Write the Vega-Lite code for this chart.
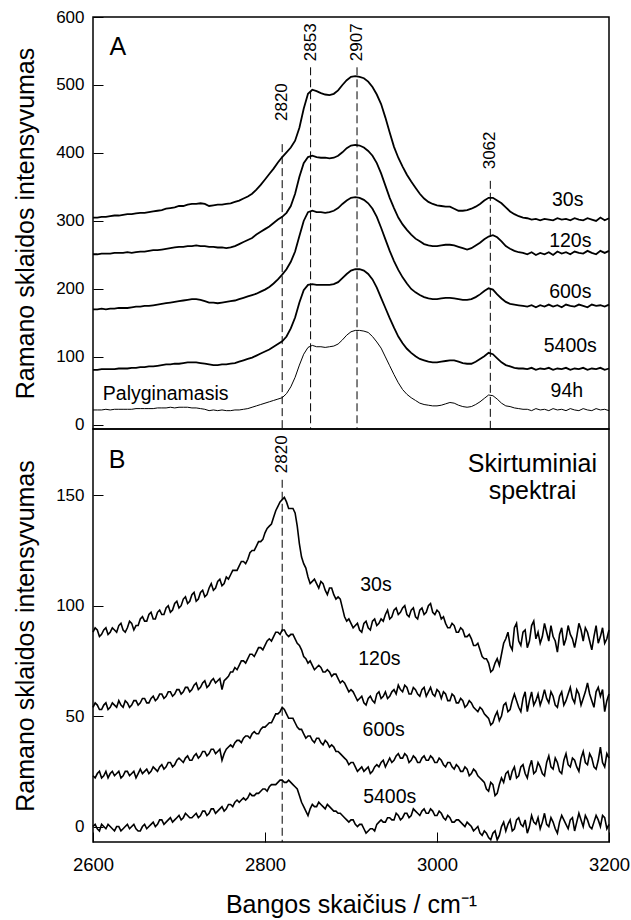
{
  "$schema": "https://vega.github.io/schema/vega-lite/v6.json",
  "padding": {"left": 12, "top": 7, "right": 3, "bottom": 3},
  "spacing": 0,
  "bounds": "flush",
  "config": {
    "font": "Liberation Sans",
    "view": {"stroke": "black", "strokeWidth": 1.5},
    "axis": {
      "domain": false, "grid": false, "tickSize": -10, "tickColor": "black", "tickWidth": 1,
      "labelColor": "black", "labelFlush": false, "labelOverlap": false, "format": "d",
      "titleFontWeight": "normal", "titleColor": "black", "titleFontSize": 25
    }
  },
  "datasets": {
    "specA": [
      {"x":2600,"a30":305,"a120":251,"a600":170,"a5400":81,"a94h":22},
      {"x":2605,"a30":305,"a120":251,"a600":170,"a5400":81,"a94h":22},
      {"x":2610,"a30":306,"a120":252,"a600":171,"a5400":82,"a94h":22},
      {"x":2615,"a30":306,"a120":252,"a600":170,"a5400":82,"a94h":23},
      {"x":2620,"a30":307,"a120":252,"a600":171,"a5400":82,"a94h":22},
      {"x":2625,"a30":308,"a120":253,"a600":171,"a5400":82,"a94h":23},
      {"x":2630,"a30":308,"a120":253,"a600":172,"a5400":83,"a94h":23},
      {"x":2635,"a30":309,"a120":253,"a600":172,"a5400":83,"a94h":23},
      {"x":2640,"a30":310,"a120":254,"a600":172,"a5400":83,"a94h":23},
      {"x":2645,"a30":310,"a120":253,"a600":173,"a5400":84,"a94h":23},
      {"x":2650,"a30":311,"a120":254,"a600":174,"a5400":84,"a94h":24},
      {"x":2655,"a30":312,"a120":255,"a600":174,"a5400":85,"a94h":24},
      {"x":2660,"a30":312,"a120":255,"a600":175,"a5400":85,"a94h":24},
      {"x":2665,"a30":313,"a120":256,"a600":175,"a5400":86,"a94h":24},
      {"x":2670,"a30":314,"a120":257,"a600":176,"a5400":86,"a94h":24},
      {"x":2675,"a30":315,"a120":257,"a600":177,"a5400":87,"a94h":25},
      {"x":2680,"a30":316,"a120":258,"a600":178,"a5400":88,"a94h":25},
      {"x":2685,"a30":318,"a120":259,"a600":179,"a5400":89,"a94h":25},
      {"x":2690,"a30":319,"a120":260,"a600":180,"a5400":89,"a94h":26},
      {"x":2695,"a30":320,"a120":261,"a600":181,"a5400":90,"a94h":25},
      {"x":2700,"a30":322,"a120":262,"a600":182,"a5400":90,"a94h":26},
      {"x":2705,"a30":322,"a120":262,"a600":183,"a5400":91,"a94h":26},
      {"x":2710,"a30":324,"a120":263,"a600":184,"a5400":92,"a94h":26},
      {"x":2715,"a30":325,"a120":263,"a600":185,"a5400":92,"a94h":25},
      {"x":2720,"a30":325,"a120":264,"a600":185,"a5400":92,"a94h":25},
      {"x":2725,"a30":326,"a120":263,"a600":184,"a5400":91,"a94h":24},
      {"x":2730,"a30":325,"a120":263,"a600":182,"a5400":90,"a94h":23},
      {"x":2735,"a30":322,"a120":262,"a600":180,"a5400":89,"a94h":21},
      {"x":2740,"a30":323,"a120":262,"a600":180,"a5400":88,"a94h":22},
      {"x":2745,"a30":324,"a120":261,"a600":179,"a5400":88,"a94h":21},
      {"x":2750,"a30":324,"a120":261,"a600":180,"a5400":89,"a94h":22},
      {"x":2755,"a30":325,"a120":260,"a600":181,"a5400":89,"a94h":21},
      {"x":2760,"a30":326,"a120":261,"a600":182,"a5400":90,"a94h":21},
      {"x":2765,"a30":328,"a120":263,"a600":183,"a5400":91,"a94h":22},
      {"x":2770,"a30":330,"a120":266,"a600":185,"a5400":93,"a94h":22},
      {"x":2775,"a30":333,"a120":269,"a600":187,"a5400":95,"a94h":23},
      {"x":2780,"a30":336,"a120":272,"a600":189,"a5400":97,"a94h":24},
      {"x":2785,"a30":340,"a120":275,"a600":191,"a5400":99,"a94h":26},
      {"x":2790,"a30":346,"a120":280,"a600":193,"a5400":102,"a94h":28},
      {"x":2795,"a30":353,"a120":284,"a600":196,"a5400":105,"a94h":30},
      {"x":2800,"a30":361,"a120":288,"a600":199,"a5400":108,"a94h":32},
      {"x":2805,"a30":369,"a120":292,"a600":203,"a5400":111,"a94h":34},
      {"x":2810,"a30":377,"a120":297,"a600":208,"a5400":115,"a94h":36},
      {"x":2815,"a30":386,"a120":302,"a600":214,"a5400":119,"a94h":38},
      {"x":2820,"a30":394,"a120":306,"a600":221,"a5400":123,"a94h":40},
      {"x":2825,"a30":401,"a120":312,"a600":229,"a5400":130,"a94h":46},
      {"x":2830,"a30":408,"a120":322,"a600":240,"a5400":142,"a94h":56},
      {"x":2835,"a30":418,"a120":340,"a600":255,"a5400":158,"a94h":70},
      {"x":2840,"a30":437,"a120":365,"a600":278,"a5400":180,"a94h":88},
      {"x":2845,"a30":465,"a120":385,"a600":300,"a5400":198,"a94h":104},
      {"x":2850,"a30":487,"a120":394,"a600":313,"a5400":206,"a94h":114},
      {"x":2855,"a30":493,"a120":396,"a600":315,"a5400":207,"a94h":117},
      {"x":2860,"a30":491,"a120":394,"a600":313,"a5400":206,"a94h":115},
      {"x":2865,"a30":488,"a120":393,"a600":313,"a5400":206,"a94h":115},
      {"x":2870,"a30":486,"a120":393,"a600":312,"a5400":206,"a94h":114},
      {"x":2875,"a30":485,"a120":392,"a600":313,"a5400":206,"a94h":115},
      {"x":2880,"a30":487,"a120":393,"a600":315,"a5400":207,"a94h":116},
      {"x":2885,"a30":492,"a120":396,"a600":319,"a5400":210,"a94h":119},
      {"x":2890,"a30":500,"a120":401,"a600":325,"a5400":216,"a94h":125},
      {"x":2895,"a30":507,"a120":407,"a600":330,"a5400":222,"a94h":132},
      {"x":2900,"a30":512,"a120":411,"a600":334,"a5400":227,"a94h":137},
      {"x":2905,"a30":513,"a120":412,"a600":335,"a5400":229,"a94h":139},
      {"x":2910,"a30":512,"a120":411,"a600":334,"a5400":229,"a94h":139},
      {"x":2915,"a30":510,"a120":408,"a600":331,"a5400":227,"a94h":138},
      {"x":2920,"a30":505,"a120":403,"a600":326,"a5400":222,"a94h":136},
      {"x":2925,"a30":497,"a120":396,"a600":318,"a5400":214,"a94h":130},
      {"x":2930,"a30":486,"a120":385,"a600":306,"a5400":202,"a94h":122},
      {"x":2935,"a30":472,"a120":370,"a600":290,"a5400":187,"a94h":113},
      {"x":2940,"a30":452,"a120":352,"a600":273,"a5400":172,"a94h":100},
      {"x":2945,"a30":430,"a120":334,"a600":256,"a5400":157,"a94h":87},
      {"x":2950,"a30":409,"a120":319,"a600":241,"a5400":143,"a94h":74},
      {"x":2955,"a30":393,"a120":305,"a600":228,"a5400":130,"a94h":62},
      {"x":2960,"a30":380,"a120":295,"a600":217,"a5400":120,"a94h":52},
      {"x":2965,"a30":368,"a120":287,"a600":208,"a5400":112,"a94h":45},
      {"x":2970,"a30":358,"a120":280,"a600":200,"a5400":106,"a94h":40},
      {"x":2975,"a30":349,"a120":274,"a600":195,"a5400":101,"a94h":36},
      {"x":2980,"a30":340,"a120":270,"a600":191,"a5400":97,"a94h":32},
      {"x":2985,"a30":333,"a120":266,"a600":188,"a5400":95,"a94h":30},
      {"x":2990,"a30":328,"a120":264,"a600":186,"a5400":93,"a94h":29},
      {"x":2995,"a30":325,"a120":263,"a600":185,"a5400":92,"a94h":28},
      {"x":3000,"a30":323,"a120":263,"a600":185,"a5400":92,"a94h":28},
      {"x":3005,"a30":322,"a120":264,"a600":186,"a5400":93,"a94h":29},
      {"x":3010,"a30":321,"a120":265,"a600":187,"a5400":94,"a94h":31},
      {"x":3015,"a30":321,"a120":265,"a600":187,"a5400":95,"a94h":33},
      {"x":3020,"a30":318,"a120":264,"a600":186,"a5400":95,"a94h":32},
      {"x":3025,"a30":315,"a120":262,"a600":185,"a5400":93,"a94h":29},
      {"x":3030,"a30":315,"a120":260,"a600":184,"a5400":91,"a94h":27},
      {"x":3035,"a30":316,"a120":258,"a600":184,"a5400":90,"a94h":26},
      {"x":3040,"a30":318,"a120":260,"a600":185,"a5400":90,"a94h":27},
      {"x":3045,"a30":321,"a120":264,"a600":188,"a5400":93,"a94h":30},
      {"x":3050,"a30":325,"a120":268,"a600":192,"a5400":97,"a94h":34},
      {"x":3055,"a30":330,"a120":273,"a600":197,"a5400":101,"a94h":39},
      {"x":3060,"a30":334,"a120":277,"a600":201,"a5400":106,"a94h":44},
      {"x":3065,"a30":334,"a120":279,"a600":199,"a5400":104,"a94h":43},
      {"x":3070,"a30":330,"a120":276,"a600":192,"a5400":98,"a94h":38},
      {"x":3075,"a30":326,"a120":270,"a600":186,"a5400":92,"a94h":32},
      {"x":3080,"a30":320,"a120":263,"a600":181,"a5400":88,"a94h":28},
      {"x":3085,"a30":314,"a120":259,"a600":178,"a5400":86,"a94h":27},
      {"x":3090,"a30":310,"a120":256,"a600":177,"a5400":84,"a94h":25},
      {"x":3095,"a30":307,"a120":254,"a600":176,"a5400":83,"a94h":24},
      {"x":3100,"a30":305,"a120":253,"a600":175,"a5400":83,"a94h":23},
      {"x":3105,"a30":304,"a120":251,"a600":174,"a5400":82,"a94h":23},
      {"x":3110,"a30":302,"a120":254,"a600":176,"a5400":84,"a94h":21},
      {"x":3115,"a30":303,"a120":250,"a600":173,"a5400":81,"a94h":24},
      {"x":3120,"a30":301,"a120":253,"a600":176,"a5400":83,"a94h":22},
      {"x":3125,"a30":303,"a120":251,"a600":174,"a5400":82,"a94h":23},
      {"x":3130,"a30":302,"a120":254,"a600":177,"a5400":84,"a94h":21},
      {"x":3135,"a30":301,"a120":250,"a600":174,"a5400":81,"a94h":24},
      {"x":3140,"a30":304,"a120":255,"a600":176,"a5400":83,"a94h":22},
      {"x":3145,"a30":302,"a120":252,"a600":173,"a5400":82,"a94h":23},
      {"x":3150,"a30":303,"a120":254,"a600":177,"a5400":84,"a94h":21},
      {"x":3155,"a30":301,"a120":251,"a600":175,"a5400":81,"a94h":24},
      {"x":3160,"a30":304,"a120":255,"a600":174,"a5400":83,"a94h":22},
      {"x":3165,"a30":302,"a120":253,"a600":177,"a5400":82,"a94h":21},
      {"x":3170,"a30":301,"a120":252,"a600":175,"a5400":84,"a94h":24},
      {"x":3175,"a30":304,"a120":256,"a600":173,"a5400":81,"a94h":22},
      {"x":3180,"a30":302,"a120":253,"a600":177,"a5400":83,"a94h":21},
      {"x":3185,"a30":300,"a120":251,"a600":175,"a5400":82,"a94h":24},
      {"x":3190,"a30":305,"a120":256,"a600":176,"a5400":84,"a94h":22},
      {"x":3195,"a30":301,"a120":253,"a600":174,"a5400":81,"a94h":23},
      {"x":3200,"a30":304,"a120":256,"a600":177,"a5400":83,"a94h":21}
    ],
    "specB": [
      {"x":2600,"b30":88,"b120":54,"b600":23,"b5400":0},
      {"x":2605,"b30":89,"b120":55,"b600":24,"b5400":-1},
      {"x":2610,"b30":87,"b120":53,"b600":22,"b5400":1},
      {"x":2615,"b30":90,"b120":56,"b600":25,"b5400":-1},
      {"x":2620,"b30":88,"b120":54,"b600":24,"b5400":0},
      {"x":2625,"b30":89,"b120":55,"b600":23,"b5400":-2},
      {"x":2630,"b30":91,"b120":57,"b600":25,"b5400":0},
      {"x":2635,"b30":89,"b120":54,"b600":23,"b5400":-1},
      {"x":2640,"b30":90,"b120":56,"b600":25,"b5400":1},
      {"x":2645,"b30":92,"b120":55,"b600":24,"b5400":0},
      {"x":2650,"b30":91,"b120":57,"b600":22,"b5400":-1},
      {"x":2655,"b30":94,"b120":56,"b600":26,"b5400":-2},
      {"x":2660,"b30":93,"b120":58,"b600":25,"b5400":1},
      {"x":2665,"b30":96,"b120":56,"b600":24,"b5400":0},
      {"x":2670,"b30":94,"b120":59,"b600":27,"b5400":2},
      {"x":2675,"b30":97,"b120":58,"b600":25,"b5400":1},
      {"x":2680,"b30":96,"b120":60,"b600":28,"b5400":3},
      {"x":2685,"b30":99,"b120":59,"b600":27,"b5400":2},
      {"x":2690,"b30":97,"b120":61,"b600":29,"b5400":4},
      {"x":2695,"b30":101,"b120":60,"b600":28,"b5400":3},
      {"x":2700,"b30":99,"b120":62,"b600":31,"b5400":5},
      {"x":2705,"b30":103,"b120":61,"b600":29,"b5400":4},
      {"x":2710,"b30":101,"b120":63,"b600":32,"b5400":5},
      {"x":2715,"b30":105,"b120":62,"b600":30,"b5400":4},
      {"x":2720,"b30":102,"b120":65,"b600":33,"b5400":6},
      {"x":2725,"b30":106,"b120":63,"b600":32,"b5400":5},
      {"x":2730,"b30":104,"b120":66,"b600":34,"b5400":7},
      {"x":2735,"b30":108,"b120":64,"b600":33,"b5400":6},
      {"x":2740,"b30":107,"b120":67,"b600":35,"b5400":8},
      {"x":2745,"b30":111,"b120":66,"b600":34,"b5400":7},
      {"x":2750,"b30":109,"b120":62,"b600":30,"b5400":9},
      {"x":2755,"b30":113,"b120":67,"b600":35,"b5400":8},
      {"x":2760,"b30":114,"b120":70,"b600":37,"b5400":10},
      {"x":2765,"b30":116,"b120":72,"b600":38,"b5400":11},
      {"x":2770,"b30":118,"b120":73,"b600":39,"b5400":11},
      {"x":2775,"b30":120,"b120":75,"b600":40,"b5400":13},
      {"x":2780,"b30":121,"b120":76,"b600":41,"b5400":13},
      {"x":2785,"b30":125,"b120":78,"b600":42,"b5400":14},
      {"x":2790,"b30":127,"b120":79,"b600":42,"b5400":15},
      {"x":2795,"b30":129,"b120":81,"b600":44,"b5400":16},
      {"x":2800,"b30":133,"b120":82,"b600":45,"b5400":17},
      {"x":2805,"b30":136,"b120":85,"b600":47,"b5400":18},
      {"x":2810,"b30":140,"b120":86,"b600":49,"b5400":19},
      {"x":2815,"b30":145,"b120":88,"b600":51,"b5400":20},
      {"x":2820,"b30":148,"b120":89,"b600":54,"b5400":21},
      {"x":2825,"b30":147,"b120":87,"b600":51,"b5400":20},
      {"x":2830,"b30":144,"b120":87,"b600":49,"b5400":20},
      {"x":2835,"b30":142,"b120":85,"b600":47,"b5400":18},
      {"x":2840,"b30":128,"b120":82,"b600":44,"b5400":14},
      {"x":2845,"b30":119,"b120":77,"b600":42,"b5400":9},
      {"x":2850,"b30":113,"b120":74,"b600":41,"b5400":5},
      {"x":2855,"b30":111,"b120":73,"b600":39,"b5400":10},
      {"x":2860,"b30":110,"b120":72,"b600":40,"b5400":9},
      {"x":2865,"b30":111,"b120":72,"b600":38,"b5400":10},
      {"x":2870,"b30":107,"b120":70,"b600":39,"b5400":8},
      {"x":2875,"b30":108,"b120":70,"b600":36,"b5400":9},
      {"x":2880,"b30":105,"b120":69,"b600":36,"b5400":7},
      {"x":2885,"b30":104,"b120":67,"b600":34,"b5400":6},
      {"x":2890,"b30":99,"b120":66,"b600":32,"b5400":5},
      {"x":2895,"b30":93,"b120":63,"b600":30,"b5400":3},
      {"x":2900,"b30":92,"b120":62,"b600":29,"b5400":3},
      {"x":2905,"b30":91,"b120":59,"b600":27,"b5400":1},
      {"x":2910,"b30":89,"b120":58,"b600":26,"b5400":1},
      {"x":2915,"b30":92,"b120":56,"b600":25,"b5400":-1},
      {"x":2920,"b30":90,"b120":58,"b600":27,"b5400":-2},
      {"x":2925,"b30":93,"b120":57,"b600":25,"b5400":-1},
      {"x":2930,"b30":91,"b120":60,"b600":28,"b5400":1},
      {"x":2935,"b30":94,"b120":58,"b600":29,"b5400":3},
      {"x":2940,"b30":96,"b120":61,"b600":27,"b5400":2},
      {"x":2945,"b30":94,"b120":59,"b600":31,"b5400":4},
      {"x":2950,"b30":98,"b120":62,"b600":30,"b5400":3},
      {"x":2955,"b30":96,"b120":64,"b600":33,"b5400":5},
      {"x":2960,"b30":99,"b120":61,"b600":31,"b5400":4},
      {"x":2965,"b30":96,"b120":63,"b600":32,"b5400":6},
      {"x":2970,"b30":98,"b120":60,"b600":30,"b5400":5},
      {"x":2975,"b30":95,"b120":62,"b600":31,"b5400":7},
      {"x":2980,"b30":98,"b120":59,"b600":29,"b5400":5},
      {"x":2985,"b30":96,"b120":63,"b600":32,"b5400":8},
      {"x":2990,"b30":100,"b120":61,"b600":30,"b5400":6},
      {"x":2995,"b30":97,"b120":60,"b600":31,"b5400":7},
      {"x":3000,"b30":98,"b120":62,"b600":29,"b5400":5},
      {"x":3005,"b30":94,"b120":58,"b600":30,"b5400":6},
      {"x":3010,"b30":92,"b120":60,"b600":27,"b5400":3},
      {"x":3015,"b30":90,"b120":57,"b600":29,"b5400":4},
      {"x":3020,"b30":91,"b120":59,"b600":26,"b5400":2},
      {"x":3025,"b30":88,"b120":56,"b600":27,"b5400":3},
      {"x":3030,"b30":89,"b120":57,"b600":25,"b5400":1},
      {"x":3035,"b30":86,"b120":55,"b600":26,"b5400":2},
      {"x":3040,"b30":85,"b120":56,"b600":24,"b5400":0},
      {"x":3045,"b30":82,"b120":53,"b600":25,"b5400":-1},
      {"x":3050,"b30":80,"b120":54,"b600":22,"b5400":-3},
      {"x":3055,"b30":76,"b120":51,"b600":20,"b5400":-2},
      {"x":3060,"b30":74,"b120":49,"b600":16,"b5400":-5},
      {"x":3065,"b30":71,"b120":47,"b600":19,"b5400":-3},
      {"x":3070,"b30":76,"b120":52,"b600":15,"b5400":-6},
      {"x":3075,"b30":78,"b120":50,"b600":22,"b5400":0},
      {"x":3080,"b30":85,"b120":56,"b600":24,"b5400":-2},
      {"x":3085,"b30":82,"b120":53,"b600":21,"b5400":3},
      {"x":3090,"b30":90,"b120":60,"b600":27,"b5400":-1},
      {"x":3095,"b30":84,"b120":54,"b600":23,"b5400":4},
      {"x":3100,"b30":88,"b120":58,"b600":28,"b5400":0},
      {"x":3105,"b30":81,"b120":52,"b600":22,"b5400":-3},
      {"x":3110,"b30":91,"b120":61,"b600":30,"b5400":5},
      {"x":3115,"b30":85,"b120":57,"b600":25,"b5400":1},
      {"x":3120,"b30":83,"b120":55,"b600":27,"b5400":-1},
      {"x":3125,"b30":92,"b120":62,"b600":23,"b5400":6},
      {"x":3130,"b30":84,"b120":56,"b600":32,"b5400":0},
      {"x":3135,"b30":86,"b120":59,"b600":26,"b5400":2},
      {"x":3140,"b30":79,"b120":54,"b600":29,"b5400":-3},
      {"x":3145,"b30":90,"b120":61,"b600":24,"b5400":5},
      {"x":3150,"b30":85,"b120":57,"b600":33,"b5400":1},
      {"x":3155,"b30":87,"b120":63,"b600":27,"b5400":3},
      {"x":3160,"b30":81,"b120":56,"b600":30,"b5400":-2},
      {"x":3165,"b30":92,"b120":60,"b600":25,"b5400":6},
      {"x":3170,"b30":84,"b120":58,"b600":34,"b5400":0},
      {"x":3175,"b30":88,"b120":65,"b600":28,"b5400":3},
      {"x":3180,"b30":80,"b120":57,"b600":31,"b5400":-1},
      {"x":3185,"b30":91,"b120":61,"b600":26,"b5400":5},
      {"x":3190,"b30":86,"b120":59,"b600":36,"b5400":0},
      {"x":3195,"b30":83,"b120":52,"b600":27,"b5400":4},
      {"x":3200,"b30":89,"b120":60,"b600":31,"b5400":1},
      {"x":2602.5,"b30":90,"b120":56,"b600":22,"b5400":1},
      {"x":2607.5,"b30":86,"b120":53,"b600":25,"b5400":-2},
      {"x":2612.5,"b30":89,"b120":55,"b600":23,"b5400":0},
      {"x":2617.5,"b30":87,"b120":53,"b600":22,"b5400":1},
      {"x":2622.5,"b30":90,"b120":56,"b600":25,"b5400":-1},
      {"x":2627.5,"b30":88,"b120":54,"b600":24,"b5400":0},
      {"x":2632.5,"b30":92,"b120":55,"b600":22,"b5400":-2},
      {"x":2637.5,"b30":88,"b120":57,"b600":25,"b5400":0},
      {"x":2642.5,"b30":93,"b120":54,"b600":23,"b5400":-1},
      {"x":2647.5,"b30":89,"b120":57,"b600":25,"b5400":1},
      {"x":2652.5,"b30":91,"b120":55,"b600":24,"b5400":-2},
      {"x":2657.5,"b30":95,"b120":58,"b600":24,"b5400":0},
      {"x":2662.5,"b30":93,"b120":56,"b600":26,"b5400":-1},
      {"x":2667.5,"b30":97,"b120":58,"b600":25,"b5400":1},
      {"x":2672.5,"b30":94,"b120":57,"b600":26,"b5400":0},
      {"x":2677.5,"b30":98,"b120":60,"b600":27,"b5400":3},
      {"x":2682.5,"b30":96,"b120":58,"b600":26,"b5400":1},
      {"x":2687.5,"b30":100,"b120":61,"b600":29,"b5400":3},
      {"x":2692.5,"b30":98,"b120":59,"b600":27,"b5400":2},
      {"x":2697.5,"b30":102,"b120":62,"b600":30,"b5400":4},
      {"x":2702.5,"b30":100,"b120":60,"b600":30,"b5400":3},
      {"x":2707.5,"b30":104,"b120":63,"b600":31,"b5400":6},
      {"x":2712.5,"b30":102,"b120":61,"b600":30,"b5400":4},
      {"x":2717.5,"b30":106,"b120":64,"b600":32,"b5400":5},
      {"x":2722.5,"b30":103,"b120":62,"b600":31,"b5400":4},
      {"x":2727.5,"b30":107,"b120":65,"b600":34,"b5400":7},
      {"x":2732.5,"b30":105,"b120":63,"b600":32,"b5400":5},
      {"x":2737.5,"b30":110,"b120":66,"b600":35,"b5400":8},
      {"x":2742.5,"b30":108,"b120":65,"b600":33,"b5400":6},
      {"x":2747.5,"b30":112,"b120":67,"b600":35,"b5400":8},
      {"x":2752.5,"b30":110,"b120":66,"b600":33,"b5400":7},
      {"x":2757.5,"b30":112,"b120":68,"b600":36,"b5400":10},
      {"x":2762.5,"b30":116,"b120":70,"b600":36,"b5400":9},
      {"x":2767.5,"b30":116,"b120":71,"b600":39,"b5400":12},
      {"x":2772.5,"b30":120,"b120":75,"b600":38,"b5400":12},
      {"x":2777.5,"b30":119,"b120":74,"b600":41,"b5400":12},
      {"x":2782.5,"b30":124,"b120":78,"b600":40,"b5400":15},
      {"x":2787.5,"b30":125,"b120":77,"b600":43,"b5400":14},
      {"x":2792.5,"b30":129,"b120":81,"b600":42,"b5400":15},
      {"x":2797.5,"b30":130,"b120":80,"b600":45,"b5400":17},
      {"x":2802.5,"b30":135,"b120":84,"b600":46,"b5400":16},
      {"x":2807.5,"b30":137,"b120":84,"b600":47,"b5400":19},
      {"x":2812.5,"b30":143,"b120":88,"b600":51,"b5400":19},
      {"x":2817.5,"b30":147,"b120":87,"b600":52,"b5400":21},
      {"x":2822.5,"b30":149,"b120":89,"b600":53,"b5400":20},
      {"x":2827.5,"b30":144,"b120":86,"b600":49,"b5400":21},
      {"x":2832.5,"b30":144,"b120":87,"b600":49,"b5400":19},
      {"x":2837.5,"b30":136,"b120":83,"b600":45,"b5400":17},
      {"x":2842.5,"b30":122,"b120":80,"b600":44,"b5400":11},
      {"x":2847.5,"b30":117,"b120":76,"b600":40,"b5400":7},
      {"x":2852.5,"b30":110,"b120":75,"b600":41,"b5400":8},
      {"x":2857.5,"b30":112,"b120":71,"b600":38,"b5400":9},
      {"x":2862.5,"b30":108,"b120":73,"b600":40,"b5400":11},
      {"x":2867.5,"b30":110,"b120":70,"b600":37,"b5400":9},
      {"x":2872.5,"b30":105,"b120":71,"b600":38,"b5400":10},
      {"x":2877.5,"b30":108,"b120":68,"b600":37,"b5400":8},
      {"x":2882.5,"b30":103,"b120":69,"b600":34,"b5400":7},
      {"x":2887.5,"b30":103,"b120":65,"b600":33,"b5400":6},
      {"x":2892.5,"b30":95,"b120":65,"b600":31,"b5400":4},
      {"x":2897.5,"b30":94,"b120":61,"b600":28,"b5400":2},
      {"x":2902.5,"b30":90,"b120":61,"b600":29,"b5400":3},
      {"x":2907.5,"b30":92,"b120":57,"b600":25,"b5400":0},
      {"x":2912.5,"b30":88,"b120":59,"b600":27,"b5400":1},
      {"x":2917.5,"b30":93,"b120":55,"b600":26,"b5400":-3},
      {"x":2922.5,"b30":89,"b120":59,"b600":24,"b5400":-1},
      {"x":2927.5,"b30":94,"b120":56,"b600":27,"b5400":-2},
      {"x":2932.5,"b30":92,"b120":61,"b600":27,"b5400":2},
      {"x":2937.5,"b30":93,"b120":59,"b600":30,"b5400":2},
      {"x":2942.5,"b30":98,"b120":58,"b600":29,"b5400":4},
      {"x":2947.5,"b30":95,"b120":61,"b600":29,"b5400":3},
      {"x":2952.5,"b30":99,"b120":60,"b600":32,"b5400":6},
      {"x":2957.5,"b30":97,"b120":62,"b600":31,"b5400":3},
      {"x":2962.5,"b30":100,"b120":64,"b600":33,"b5400":6},
      {"x":2967.5,"b30":95,"b120":60,"b600":29,"b5400":4},
      {"x":2972.5,"b30":99,"b120":63,"b600":32,"b5400":8},
      {"x":2977.5,"b30":94,"b120":60,"b600":29,"b5400":6},
      {"x":2982.5,"b30":99,"b120":62,"b600":31,"b5400":7},
      {"x":2987.5,"b30":97,"b120":59,"b600":30,"b5400":6},
      {"x":2992.5,"b30":101,"b120":63,"b600":32,"b5400":8},
      {"x":2997.5,"b30":96,"b120":59,"b600":29,"b5400":5},
      {"x":3002.5,"b30":97,"b120":61,"b600":31,"b5400":7},
      {"x":3007.5,"b30":95,"b120":61,"b600":28,"b5400":4},
      {"x":3012.5,"b30":90,"b120":57,"b600":29,"b5400":5},
      {"x":3017.5,"b30":92,"b120":60,"b600":27,"b5400":2},
      {"x":3022.5,"b30":88,"b120":56,"b600":28,"b5400":3},
      {"x":3027.5,"b30":90,"b120":58,"b600":25,"b5400":2},
      {"x":3032.5,"b30":86,"b120":54,"b600":27,"b5400":0},
      {"x":3037.5,"b30":87,"b120":57,"b600":23,"b5400":1},
      {"x":3042.5,"b30":82,"b120":54,"b600":26,"b5400":-2},
      {"x":3047.5,"b30":83,"b120":52,"b600":23,"b5400":0},
      {"x":3052.5,"b30":77,"b120":53,"b600":21,"b5400":-4},
      {"x":3057.5,"b30":76,"b120":50,"b600":17,"b5400":-3},
      {"x":3062.5,"b30":70,"b120":46,"b600":20,"b5400":-6},
      {"x":3067.5,"b30":74,"b120":50,"b600":14,"b5400":-2},
      {"x":3072.5,"b30":73,"b120":48,"b600":19,"b5400":-4},
      {"x":3077.5,"b30":83,"b120":55,"b600":20,"b5400":2},
      {"x":3082.5,"b30":88,"b120":52,"b600":25,"b5400":1},
      {"x":3087.5,"b30":80,"b120":57,"b600":25,"b5400":-2},
      {"x":3092.5,"b30":92,"b120":57,"b600":22,"b5400":3},
      {"x":3097.5,"b30":82,"b120":52,"b600":27,"b5400":1},
      {"x":3102.5,"b30":89,"b120":61,"b600":24,"b5400":3},
      {"x":3107.5,"b30":84,"b120":57,"b600":27,"b5400":0},
      {"x":3112.5,"b30":93,"b120":55,"b600":24,"b5400":2},
      {"x":3117.5,"b30":88,"b120":60,"b600":29,"b5400":4},
      {"x":3122.5,"b30":86,"b120":58,"b600":24,"b5400":2},
      {"x":3127.5,"b30":88,"b120":58,"b600":29,"b5400":1},
      {"x":3132.5,"b30":91,"b120":61,"b600":27,"b5400":4},
      {"x":3137.5,"b30":84,"b120":55,"b600":31,"b5400":-1},
      {"x":3142.5,"b30":87,"b120":59,"b600":25,"b5400":2},
      {"x":3147.5,"b30":82,"b120":55,"b600":30,"b5400":3},
      {"x":3152.5,"b30":91,"b120":60,"b600":28,"b5400":-1},
      {"x":3157.5,"b30":85,"b120":58,"b600":31,"b5400":4},
      {"x":3162.5,"b30":86,"b120":62,"b600":27,"b5400":2},
      {"x":3167.5,"b30":89,"b120":55,"b600":31,"b5400":3},
      {"x":3172.5,"b30":90,"b120":61,"b600":29,"b5400":5},
      {"x":3177.5,"b30":84,"b120":60,"b600":33,"b5400":0},
      {"x":3182.5,"b30":86,"b120":54,"b600":27,"b5400":2},
      {"x":3187.5,"b30":83,"b120":63,"b600":30,"b5400":3},
      {"x":3192.5,"b30":90,"b120":62,"b600":29,"b5400":5},
      {"x":3197.5,"b30":85,"b120":57,"b600":33,"b5400":-1}
    ],
    "peaks": [
      {"p":"A","x":2820,"top":413,"bot":-6,"ly":447,"t":"2820"},
      {"p":"A","x":2853,"top":526,"bot":-6,"ly":535,"t":"2853"},
      {"p":"A","x":2907,"top":526,"bot":-6,"ly":535,"t":"2907"},
      {"p":"A","x":3062,"top":359,"bot":-6,"ly":376,"t":"3062"},
      {"p":"B","x":2820,"top":157,"bot":-7,"ly":160,"t":"2820"}
    ],
    "notes": [
      {"p":"A","k":"s","x":3152,"y":331,"t":"30s"},
      {"p":"A","k":"s","x":3155,"y":271,"t":"120s"},
      {"p":"A","k":"s","x":3155,"y":195,"t":"600s"},
      {"p":"A","k":"s","x":3155,"y":116,"t":"5400s"},
      {"p":"A","k":"s","x":3151,"y":50,"t":"94h"},
      {"p":"A","k":"s","x":2684.5,"y":45,"t":"Palyginamasis"},
      {"p":"A","k":"b","x":2629,"y":556,"t":"A"},
      {"p":"B","k":"b","x":2628,"y":166,"t":"B"},
      {"p":"B","k":"b","x":3111,"y":164,"t":"Skirtuminiai"},
      {"p":"B","k":"b","x":3111,"y":152,"t":"spektrai"},
      {"p":"B","k":"s","x":2929,"y":109.5,"t":"30s"},
      {"p":"B","k":"s","x":2933,"y":76,"t":"120s"},
      {"p":"B","k":"s","x":2938,"y":43.8,"t":"600s"},
      {"p":"B","k":"s","x":2945,"y":13.3,"t":"5400s"}
    ]
  },
  "vconcat": [
    {
      "width": 516,
      "height": 412,
      "layer": [
        {
          "data": {"name": "specA"},
          "transform": [{"fold": ["a30", "a120", "a600", "a5400"], "as": ["series", "val"]}],
          "mark": {"type": "line", "color": "black", "strokeWidth": 1.8},
          "encoding": {
            "x": {"field": "x", "type": "quantitative", "scale": {"domain": [2600, 3200], "nice": false}, "axis": null},
            "y": {"field": "val", "type": "quantitative", "scale": {"domain": [-6, 600], "nice": false},
              "axis": {"values": [0, 100, 200, 300, 400, 500, 600], "title": "Ramano sklaidos intensyvumas",
                "labelFontSize": 17, "labelPadding": 19, "titlePadding": 17}},
            "detail": {"field": "series"}
          }
        },
        {
          "data": {"name": "specA"},
          "mark": {"type": "line", "color": "black", "strokeWidth": 1},
          "encoding": {
            "x": {"field": "x", "type": "quantitative", "axis": null},
            "y": {"field": "a94h", "type": "quantitative"}
          }
        },
        {
          "data": {"name": "peaks"},
          "transform": [{"filter": "datum.p === 'A'"}],
          "mark": {"type": "rule", "color": "black", "strokeWidth": 1, "strokeDash": [8, 4]},
          "encoding": {
            "x": {"field": "x", "type": "quantitative", "axis": null},
            "y": {"field": "top", "type": "quantitative"},
            "y2": {"field": "bot"}
          }
        },
        {
          "data": {"name": "peaks"},
          "transform": [{"filter": "datum.p === 'A'"}],
          "mark": {"type": "text", "color": "black", "fontSize": 17, "angle": 270, "align": "left", "baseline": "middle"},
          "encoding": {
            "x": {"field": "x", "type": "quantitative", "axis": null},
            "y": {"field": "ly", "type": "quantitative"},
            "text": {"field": "t"}
          }
        },
        {
          "data": {"name": "notes"},
          "transform": [{"filter": "datum.p === 'A' && datum.k === 's'"}],
          "mark": {"type": "text", "color": "black", "fontSize": 19.5, "align": "center", "baseline": "middle"},
          "encoding": {
            "x": {"field": "x", "type": "quantitative", "axis": null},
            "y": {"field": "y", "type": "quantitative"},
            "text": {"field": "t"}
          }
        },
        {
          "data": {"name": "notes"},
          "transform": [{"filter": "datum.p === 'A' && datum.k === 'b'"}],
          "mark": {"type": "text", "color": "black", "fontSize": 25, "align": "center", "baseline": "middle"},
          "encoding": {
            "x": {"field": "x", "type": "quantitative", "axis": null},
            "y": {"field": "y", "type": "quantitative"},
            "text": {"field": "t"}
          }
        }
      ]
    },
    {
      "width": 516,
      "height": 413,
      "layer": [
        {
          "data": {"name": "specB"},
          "transform": [{"fold": ["b30", "b120", "b600", "b5400"], "as": ["series", "val"]}],
          "mark": {"type": "line", "color": "black", "strokeWidth": 1.6},
          "encoding": {
            "x": {"field": "x", "type": "quantitative", "scale": {"domain": [2600, 3200], "nice": false},
              "axis": {"values": [2600, 2800, 3000, 3200], "title": "Bangos skaičius / cm⁻¹",
                "labelFontSize": 18.5, "labelPadding": 23, "titlePadding": 19}},
            "y": {"field": "val", "type": "quantitative", "scale": {"domain": [-7, 180], "nice": false},
              "axis": {"values": [0, 50, 100, 150], "title": "Ramano sklaidos intensyvumas",
                "labelFontSize": 17, "labelPadding": 19, "titlePadding": 17}},
            "detail": {"field": "series"}
          }
        },
        {
          "data": {"name": "peaks"},
          "transform": [{"filter": "datum.p === 'B'"}],
          "mark": {"type": "rule", "color": "black", "strokeWidth": 1, "strokeDash": [8, 4]},
          "encoding": {
            "x": {"field": "x", "type": "quantitative"},
            "y": {"field": "top", "type": "quantitative"},
            "y2": {"field": "bot"}
          }
        },
        {
          "data": {"name": "peaks"},
          "transform": [{"filter": "datum.p === 'B'"}],
          "mark": {"type": "text", "color": "black", "fontSize": 17, "angle": 270, "align": "left", "baseline": "middle"},
          "encoding": {
            "x": {"field": "x", "type": "quantitative"},
            "y": {"field": "ly", "type": "quantitative"},
            "text": {"field": "t"}
          }
        },
        {
          "data": {"name": "notes"},
          "transform": [{"filter": "datum.p === 'B' && datum.k === 's'"}],
          "mark": {"type": "text", "color": "black", "fontSize": 19.5, "align": "center", "baseline": "middle"},
          "encoding": {
            "x": {"field": "x", "type": "quantitative"},
            "y": {"field": "y", "type": "quantitative"},
            "text": {"field": "t"}
          }
        },
        {
          "data": {"name": "notes"},
          "transform": [{"filter": "datum.p === 'B' && datum.k === 'b'"}],
          "mark": {"type": "text", "color": "black", "fontSize": 25, "align": "center", "baseline": "middle"},
          "encoding": {
            "x": {"field": "x", "type": "quantitative"},
            "y": {"field": "y", "type": "quantitative"},
            "text": {"field": "t"}
          }
        }
      ]
    }
  ]
}
